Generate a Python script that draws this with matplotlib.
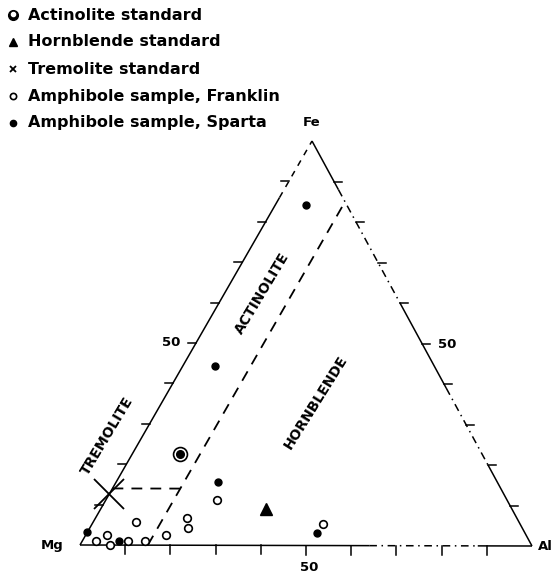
import numpy as np
import matplotlib
matplotlib.use("Agg")
import matplotlib.pyplot as plt

plt.rcParams['font.family'] = ['DejaVu Sans']

# ternary compositions: (Al %, Fe %), Mg is the rest
franklin_al = [3, 4.7, 6.6, 10.1, 13.9, 9.5, 17.7, 20.2, 21.7, 24.6, 51]
franklin_fe = [1, 2.5, 0, 1, 1, 5.7, 2.5, 6.7, 4.2, 11.1, 5.4]
sparta_al = [0, 8.1, 22.5, 7.1, 6.8, 50.9]
sparta_fe = [3.2, 1, 15.6, 44.3, 84.2, 3]
actinolite_al, actinolite_fe = [10.6], [22.5]
hornblende_al, hornblende_fe = [36.6], [8.9]
tremolite_al, tremolite_fe = [0], [12.6]

# field boundaries (Al %, Fe %)
bound_al_line = ([15, 15], [0, 84])
bound_fe_line = ([0, 15], [14, 14])

legend_labels = ["Actinolite standard", "Hornblende standard", "Tremolite standard",
                 "Amphibole sample, Franklin", "Amphibole sample, Sparta"]

# vertex positions on the page (pixels)
MG = np.array([80.0, 545.0])
AL = np.array([532.0, 546.0])
FE = np.array([312.0, 141.0])


def tern(al, fe):
    al = np.asarray(al, float) / 100.0
    fe = np.asarray(fe, float) / 100.0
    p = MG[:, None] + np.outer(AL - MG, al) + np.outer(FE - MG, fe)
    return p[0], p[1]


def edge_pt(a, b, t):
    return a + (b - a) * t


fig = plt.figure(figsize=(5.54, 5.74), dpi=100)
ax = fig.add_axes([0, 0, 1, 1])
ax.set_xlim(0, 554)
ax.set_ylim(574, 0)
ax.axis("off")

lw = 1.1
k = "black"
broken = (0, (5, 3, 1, 3))

# triangle edges, with the gaps of the printed original
edges = [
    (MG, FE, [(0, 0.86, "-"), (0.86, 1.0, (0, (4, 4)))]),
    (FE, AL, [(0, 0.12, "-"), (0.12, 0.40, broken), (0.40, 0.61, "-"),
              (0.61, 0.80, broken), (0.80, 1.0, "-")]),
    (MG, AL, [(0, 0.64, "-"), (0.64, 0.88, broken), (0.88, 1.0, "-")]),
]
for a, b, parts in edges:
    for t0, t1, ls in parts:
        p0, p1 = edge_pt(a, b, t0), edge_pt(a, b, t1)
        ax.plot([p0[0], p1[0]], [p0[1], p1[1]], color=k, lw=lw, ls=ls,
                solid_capstyle="butt")

# ticks every 10 %
for i in range(1, 10):
    t = i / 10
    p = edge_pt(MG, FE, t)
    ax.plot([p[0] - 8, p[0]], [p[1], p[1]], color=k, lw=lw)
    p = edge_pt(FE, AL, t)
    ax.plot([p[0], p[0] + 8], [p[1], p[1]], color=k, lw=lw)
    p = edge_pt(MG, AL, t)
    ax.plot([p[0], p[0]], [p[1], p[1] + 9], color=k, lw=lw)

fs = 9.5
p = edge_pt(MG, FE, 0.5)
ax.text(p[0] - 25, p[1] - 1, "50", fontsize=fs, fontweight="bold", ha="center", va="center")
p = edge_pt(FE, AL, 0.5)
ax.text(p[0] + 25, p[1] + 1, "50", fontsize=fs, fontweight="bold", ha="center", va="center")
p = edge_pt(MG, AL, 0.5)
ax.text(p[0] + 3, p[1] + 22, "50", fontsize=fs, fontweight="bold", ha="center", va="center")

ax.text(MG[0] - 28, MG[1], "Mg", fontsize=fs, fontweight="bold", ha="center", va="center")
ax.text(AL[0] + 6, AL[1] + 1, "Al", fontsize=fs, fontweight="bold", ha="left", va="center")
ax.text(FE[0], FE[1] - 18, "Fe", fontsize=fs, fontweight="bold", ha="center", va="center")

# dashed field boundaries
dash = (0, (6, 4.5))
x, y = tern(*bound_al_line)
ax.plot(x, y, color=k, lw=1.3, ls=dash)
x, y = tern(*bound_fe_line)
ax.plot(x, y, color=k, lw=1.3, ls=dash)

# field names
ax.text(107, 436, "TREMOLITE", fontsize=10, fontweight="bold", rotation=59,
        ha="center", va="center", rotation_mode="anchor")
ax.text(262, 293, "ACTINOLITE", fontsize=10, fontweight="bold", rotation=59,
        ha="center", va="center", rotation_mode="anchor")
ax.text(316, 402, "HORNBLENDE", fontsize=10, fontweight="bold", rotation=58,
        ha="center", va="center", rotation_mode="anchor")

# data points
x, y = tern(franklin_al, franklin_fe)
ax.plot(x, y, "o", ms=5.5, mfc="white", mec=k, mew=1.2, ls="none")
x, y = tern(sparta_al, sparta_fe)
ax.plot(x, y, "o", ms=5, mfc=k, mec=k, ls="none")
x, y = tern(actinolite_al, actinolite_fe)
ax.plot(x, y, "o", ms=10, mfc="white", mec=k, mew=1.2, ls="none")
ax.plot(x, y, "o", ms=5.5, mfc=k, mec=k, ls="none")
x, y = tern(hornblende_al, hornblende_fe)
ax.plot(x, y, "^", ms=8.5, mfc=k, mec=k, ls="none")
x, y = tern(tremolite_al, tremolite_fe)
ax.plot(x, y, "x", ms=22, mec=k, mew=1.3, ls="none")

# legend written in the corner
ly = [15, 42, 69, 96, 123]
ax.plot([13], [ly[0]], "o", ms=7, mfc=k, mec=k)
ax.plot([13], [ly[0] - 1], "o", ms=3, mfc="white", mec="white")
ax.plot([13], [ly[1]], "^", ms=6, mfc=k, mec=k)
ax.plot([13], [ly[2]], "x", ms=5, mec=k, mew=1.3)
ax.plot([13], [ly[3]], "o", ms=4.5, mfc="white", mec=k, mew=1.2)
ax.plot([13], [ly[4]], "o", ms=4.5, mfc=k, mec=k)
for yy, lab in zip(ly, legend_labels):
    ax.text(28, yy, lab, fontsize=11.5, fontweight="bold", ha="left", va="center")

fig.savefig("out.png", dpi=100)
